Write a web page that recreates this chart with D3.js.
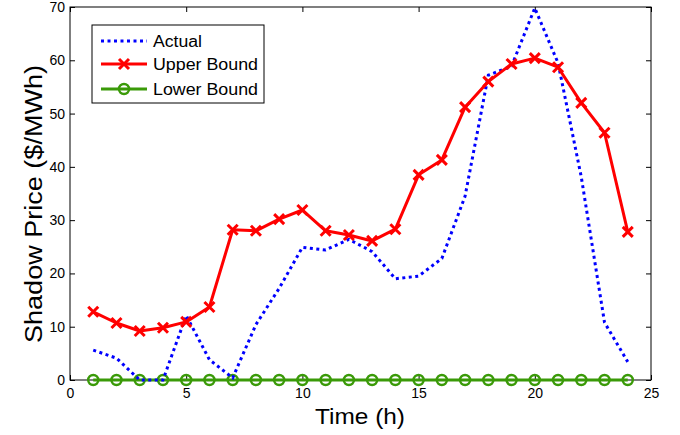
<!DOCTYPE html>
<html>
<head>
<meta charset="utf-8">
<script src="https://cdn.jsdelivr.net/npm/d3@7"></script>
<style>
  body { margin: 0; background: #fff; }
  svg { display: block; font-family: "Liberation Sans", Arial, sans-serif; }
</style>
</head>
<body>
<svg id="chart" width="680" height="435"></svg>
<script>
// Hourly shadow prices ($/MWh)
const hours = d3.range(1, 25);
const actual = [5.6, 4.1, 0, 0, 12.1, 3.8, 0.4, 10.4, 17.2, 24.9, 24.4, 26.4, 24.1, 19.0, 19.5, 22.8, 34.5, 57.2, 58.9, 69.8, 59.5, 38.1, 10.8, 3.4];
const upperBound = [12.8, 10.7, 9.2, 9.8, 10.9, 13.7, 28.2, 28.0, 30.2, 31.9, 28.0, 27.2, 26.1, 28.3, 38.5, 41.3, 51.2, 56.0, 59.3, 60.4, 58.7, 52.0, 46.4, 27.8];
const lowerBound = [0, 0, 0, 0, 0, 0, 0, 0, 0, 0, 0, 0, 0, 0, 0, 0, 0, 0, 0, 0, 0, 0, 0, 0];
const xTicks = [0, 5, 10, 15, 20, 25];
const yTicks = [0, 10, 20, 30, 40, 50, 60, 70];
const seriesNames = ["Actual", "Upper Bound", "Lower Bound"];

const svg = d3.select("#chart");
const plotLeft = 70, plotRight = 651, plotTop = 7, plotBottom = 380;

const x = d3.scaleLinear().domain([0, 25]).range([plotLeft, plotRight]);
const y = d3.scaleLinear().domain([0, 70]).range([plotBottom, plotTop]);

const BLUE = "#0000ff", RED = "#ff0000", GREEN = "#3a9a08";

// Plot frame
svg.append("rect")
  .attr("x", plotLeft).attr("y", plotTop)
  .attr("width", plotRight - plotLeft).attr("height", plotBottom - plotTop)
  .attr("fill", "#fff").attr("stroke", "#000").attr("stroke-width", 1);

// Inward ticks on all four sides
const tickLen = 5;
const axisB = d3.axisBottom(x).tickValues(xTicks).tickSizeInner(-tickLen).tickSizeOuter(0).tickPadding(8);
const axisT = d3.axisTop(x).tickValues(xTicks).tickSizeInner(-tickLen).tickSizeOuter(0).tickFormat("");
const axisL = d3.axisLeft(y).tickValues(yTicks).tickSizeInner(-tickLen).tickSizeOuter(0).tickPadding(5);
const axisR = d3.axisRight(y).tickValues(yTicks).tickSizeInner(-tickLen).tickSizeOuter(0).tickFormat("");

function styleAxis(g) {
  g.select(".domain").remove();
  g.selectAll(".tick line").attr("stroke", "#000");
  g.selectAll(".tick text").attr("fill", "#000").attr("font-size", 14)
    .attr("font-family", "'Liberation Sans', Arial, sans-serif");
}
svg.append("g").attr("transform", `translate(0,${plotBottom})`).call(axisB).call(styleAxis);
svg.append("g").attr("transform", `translate(0,${plotTop})`).call(axisT).call(styleAxis);
svg.append("g").attr("transform", `translate(${plotLeft},0)`).call(axisL).call(styleAxis);
svg.append("g").attr("transform", `translate(${plotRight},0)`).call(axisR).call(styleAxis);

// Axis titles
svg.append("text")
  .attr("x", 360).attr("y", 424)
  .attr("text-anchor", "middle").attr("font-size", 22.5).attr("fill", "#000")
  .attr("textLength", 90).attr("lengthAdjust", "spacingAndGlyphs")
  .text("Time (h)");
svg.append("text")
  .attr("transform", "translate(42,204) rotate(-90)")
  .attr("text-anchor", "middle").attr("font-size", 23.5).attr("fill", "#000")
  .attr("textLength", 278).attr("lengthAdjust", "spacingAndGlyphs")
  .text("Shadow Price ($/MWh)");

const line = d3.line().x((d, i) => x(hours[i])).y(d => y(d));
const plot = svg.append("g");

// Lower bound: green line with open circles
plot.append("path").datum(lowerBound)
  .attr("d", line).attr("fill", "none").attr("stroke", GREEN).attr("stroke-width", 3);
plot.selectAll("circle.lb").data(lowerBound).join("circle")
  .attr("class", "lb")
  .attr("cx", (d, i) => x(hours[i])).attr("cy", d => y(d)).attr("r", 5)
  .attr("fill", "none").attr("stroke", GREEN).attr("stroke-width", 2.5);

// Actual: blue dotted line
plot.append("path").datum(actual)
  .attr("d", line).attr("fill", "none").attr("stroke", BLUE)
  .attr("stroke-width", 3).attr("stroke-dasharray", "3,3.5");

// Upper bound: red line with bold x markers
plot.append("path").datum(upperBound)
  .attr("d", line).attr("fill", "none").attr("stroke", RED).attr("stroke-width", 3)
  .attr("stroke-linejoin", "round");
const xMarkPath = "M-5,-5L5,5M-5,5L5,-5";
plot.selectAll("path.ub").data(upperBound).join("path")
  .attr("class", "ub")
  .attr("transform", (d, i) => `translate(${x(hours[i])},${y(d)})`)
  .attr("d", xMarkPath).attr("fill", "none").attr("stroke", RED).attr("stroke-width", 3);

// Legend
const lg = svg.append("g");
lg.append("rect").attr("x", 92).attr("y", 25).attr("width", 172).attr("height", 78)
  .attr("fill", "#fff").attr("stroke", "#000").attr("stroke-width", 1);
const rows = [
  { name: seriesNames[0], color: BLUE, dash: "3,3.5", marker: null, cy: 41, len: 49 },
  { name: seriesNames[1], color: RED, dash: null, marker: "x", cy: 64, len: 105 },
  { name: seriesNames[2], color: GREEN, dash: null, marker: "o", cy: 89, len: 105 }
];
rows.forEach(r => {
  lg.append("line").attr("x1", 101).attr("x2", 147).attr("y1", r.cy).attr("y2", r.cy)
    .attr("stroke", r.color).attr("stroke-width", 3)
    .attr("stroke-dasharray", r.dash);
  if (r.marker === "x") {
    lg.append("path").attr("transform", `translate(124,${r.cy})`).attr("d", xMarkPath)
      .attr("fill", "none").attr("stroke", RED).attr("stroke-width", 3);
  } else if (r.marker === "o") {
    lg.append("circle").attr("cx", 124).attr("cy", r.cy).attr("r", 5)
      .attr("fill", "none").attr("stroke", GREEN).attr("stroke-width", 2.5);
  }
  lg.append("text").attr("x", 153).attr("y", r.cy + 6)
    .attr("font-size", 16).attr("fill", "#000")
    .attr("textLength", r.len).attr("lengthAdjust", "spacingAndGlyphs")
    .text(r.name);
});
</script>
</body>
</html>
